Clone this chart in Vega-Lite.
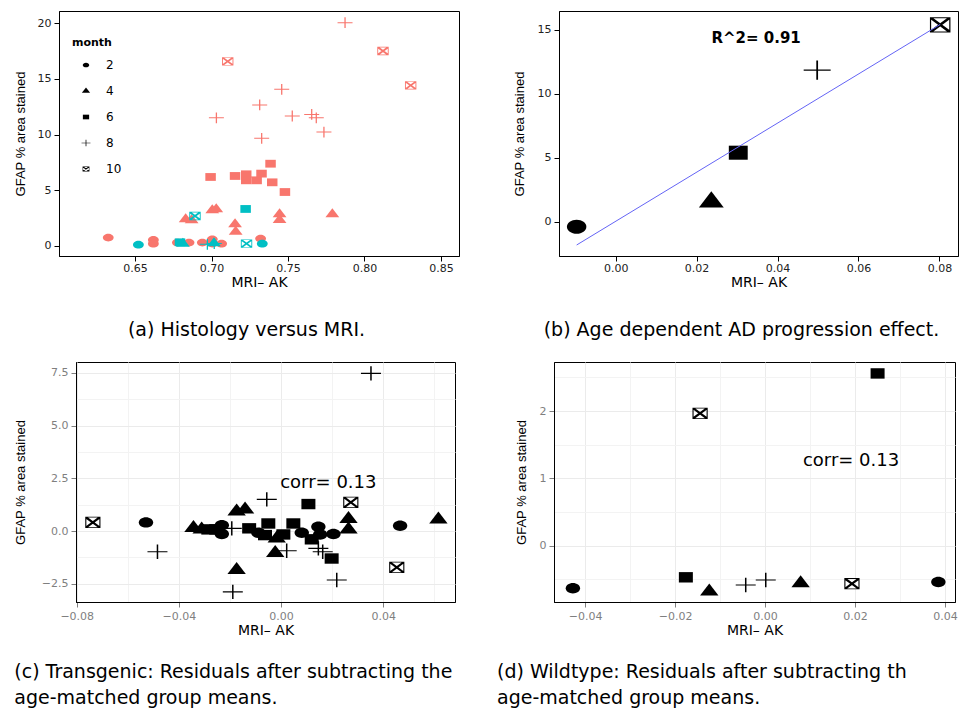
{
  "$schema": "https://vega.github.io/schema/vega-lite/v6.json",
  "background": "white",
  "padding": {"left": 12, "top": 10, "right": 0, "bottom": 0},
  "spacing": 20,
  "config": {
    "font": "DejaVu Sans",
    "view": {"stroke": "#000000", "strokeWidth": 1},
    "axis": {
      "labelFont": "DejaVu Sans", "labelFontSize": 11, "labelColor": "#222222",
      "labelPadding": 3, "labelFlush": false, "labelOverlap": false,
      "tickSize": 5, "tickColor": "#000000", "domainColor": "#000000", "domainWidth": 1,
      "grid": false, "titleColor": "#000000", "titleFontWeight": "normal"
    },
    "axisX": {"titleFont": "DejaVu Sans", "titleFontSize": 14, "titlePadding": 2, "labelPadding": 1},
    "axisY": {"titleFont": "Liberation Sans", "titleFontSize": 13},
    "title": {"font": "DejaVu Sans", "fontSize": 19, "fontWeight": "normal", "color": "#000000"},
    "text": {"font": "DejaVu Sans"}
  },
  "datasets": {
    "histology": [
      {"mri": 0.6325, "gfap": 0.75, "month": 2, "genotype": "TG"},
      {"mri": 0.662, "gfap": 0.54, "month": 2, "genotype": "TG"},
      {"mri": 0.662, "gfap": 0.21, "month": 2, "genotype": "TG"},
      {"mri": 0.6777, "gfap": 0.3, "month": 2, "genotype": "TG"},
      {"mri": 0.6853, "gfap": 0.3, "month": 2, "genotype": "TG"},
      {"mri": 0.694, "gfap": 0.3, "month": 2, "genotype": "TG"},
      {"mri": 0.7005, "gfap": 0.6, "month": 2, "genotype": "TG"},
      {"mri": 0.7005, "gfap": 0.22, "month": 2, "genotype": "TG"},
      {"mri": 0.7066, "gfap": 0.21, "month": 2, "genotype": "TG"},
      {"mri": 0.7321, "gfap": 0.66, "month": 2, "genotype": "TG"},
      {"mri": 0.6831, "gfap": 2.4, "month": 4, "genotype": "TG"},
      {"mri": 0.687, "gfap": 2.3, "month": 4, "genotype": "TG"},
      {"mri": 0.7005, "gfap": 3.2, "month": 4, "genotype": "TG"},
      {"mri": 0.7031, "gfap": 3.3, "month": 4, "genotype": "TG"},
      {"mri": 0.7154, "gfap": 1.95, "month": 4, "genotype": "TG"},
      {"mri": 0.7158, "gfap": 1.27, "month": 4, "genotype": "TG"},
      {"mri": 0.7445, "gfap": 2.84, "month": 4, "genotype": "TG"},
      {"mri": 0.7445, "gfap": 2.33, "month": 4, "genotype": "TG"},
      {"mri": 0.779, "gfap": 2.84, "month": 4, "genotype": "TG"},
      {"mri": 0.6994, "gfap": 6.19, "month": 6, "genotype": "TG"},
      {"mri": 0.7154, "gfap": 6.28, "month": 6, "genotype": "TG"},
      {"mri": 0.7227, "gfap": 6.43, "month": 6, "genotype": "TG"},
      {"mri": 0.7227, "gfap": 5.89, "month": 6, "genotype": "TG"},
      {"mri": 0.7295, "gfap": 5.89, "month": 6, "genotype": "TG"},
      {"mri": 0.7327, "gfap": 6.49, "month": 6, "genotype": "TG"},
      {"mri": 0.7386, "gfap": 7.38, "month": 6, "genotype": "TG"},
      {"mri": 0.7397, "gfap": 5.71, "month": 6, "genotype": "TG"},
      {"mri": 0.748, "gfap": 4.84, "month": 6, "genotype": "TG"},
      {"mri": 0.7873, "gfap": 20.03, "month": 8, "genotype": "TG"},
      {"mri": 0.7459, "gfap": 14.05, "month": 8, "genotype": "TG"},
      {"mri": 0.7315, "gfap": 12.65, "month": 8, "genotype": "TG"},
      {"mri": 0.7032, "gfap": 11.5, "month": 8, "genotype": "TG"},
      {"mri": 0.7528, "gfap": 11.66, "month": 8, "genotype": "TG"},
      {"mri": 0.7655, "gfap": 11.8, "month": 8, "genotype": "TG"},
      {"mri": 0.7685, "gfap": 11.5, "month": 8, "genotype": "TG"},
      {"mri": 0.7328, "gfap": 9.66, "month": 8, "genotype": "TG"},
      {"mri": 0.7735, "gfap": 10.22, "month": 8, "genotype": "TG"},
      {"mri": 0.7106, "gfap": 16.56, "month": 10, "genotype": "TG"},
      {"mri": 0.8121, "gfap": 17.49, "month": 10, "genotype": "TG"},
      {"mri": 0.8302, "gfap": 14.41, "month": 10, "genotype": "TG"},
      {"mri": 0.6522, "gfap": 0.12, "month": 2, "genotype": "WT"},
      {"mri": 0.7332, "gfap": 0.21, "month": 2, "genotype": "WT"},
      {"mri": 0.7016, "gfap": 0.25, "month": 4, "genotype": "WT"},
      {"mri": 0.6813, "gfap": 0.2, "month": 4, "genotype": "WT"},
      {"mri": 0.6794, "gfap": 0.33, "month": 6, "genotype": "WT"},
      {"mri": 0.7223, "gfap": 3.32, "month": 6, "genotype": "WT"},
      {"mri": 0.6973, "gfap": 0.15, "month": 8, "genotype": "WT"},
      {"mri": 0.7018, "gfap": 0.22, "month": 8, "genotype": "WT"},
      {"mri": 0.6892, "gfap": 2.69, "month": 10, "genotype": "WT"},
      {"mri": 0.7229, "gfap": 0.21, "month": 10, "genotype": "WT"}
    ],
    "ageMeans": [
      {"mri": -0.00964, "gfap": -0.37, "month": 2},
      {"mri": 0.02364, "gfap": 1.55, "month": 4},
      {"mri": 0.0303, "gfap": 5.41, "month": 6},
      {"mri": 0.0498, "gfap": 11.86, "month": 8},
      {"mri": 0.0802, "gfap": 15.4, "month": 10}
    ],
    "ageFit": [
      {"mri": -0.00964, "gfap": -1.8},
      {"mri": 0.0802, "gfap": 15.43}
    ],
    "ageNote": [{"mri": 0.0347, "gfap": 14.4, "label": "R^2= 0.91"}],
    "transgenic": [
      {"mri": -0.0737, "gfap": 0.41, "month": 10},
      {"mri": 0.0273, "gfap": 1.36, "month": 10},
      {"mri": 0.0453, "gfap": -1.72, "month": 10},
      {"mri": -0.0529, "gfap": 0.41, "month": 2},
      {"mri": -0.0232, "gfap": 0.28, "month": 2},
      {"mri": -0.0232, "gfap": -0.14, "month": 2},
      {"mri": -0.0089, "gfap": -0.08, "month": 2},
      {"mri": 0.0081, "gfap": -0.08, "month": 2},
      {"mri": 0.0146, "gfap": 0.21, "month": 2},
      {"mri": 0.0153, "gfap": -0.16, "month": 2},
      {"mri": 0.0205, "gfap": -0.14, "month": 2},
      {"mri": 0.0466, "gfap": 0.25, "month": 2},
      {"mri": -0.0343, "gfap": 0.14, "month": 4},
      {"mri": -0.0311, "gfap": 0.08, "month": 4},
      {"mri": -0.0174, "gfap": 0.93, "month": 4},
      {"mri": -0.0141, "gfap": 1.02, "month": 4},
      {"mri": -0.0174, "gfap": -1.84, "month": 4},
      {"mri": -0.0017, "gfap": -0.35, "month": 4},
      {"mri": -0.0023, "gfap": -1.04, "month": 4},
      {"mri": 0.0264, "gfap": 0.57, "month": 4},
      {"mri": 0.0264, "gfap": 0.08, "month": 4},
      {"mri": 0.0616, "gfap": 0.55, "month": 4},
      {"mri": -0.0285, "gfap": 0.08, "month": 6},
      {"mri": -0.0254, "gfap": 0.08, "month": 6},
      {"mri": -0.0125, "gfap": 0.13, "month": 6},
      {"mri": -0.005, "gfap": 0.36, "month": 6},
      {"mri": -0.0063, "gfap": -0.19, "month": 6},
      {"mri": 0.0009, "gfap": -0.16, "month": 6},
      {"mri": 0.0048, "gfap": 0.36, "month": 6},
      {"mri": 0.0107, "gfap": 1.28, "month": 6},
      {"mri": 0.012, "gfap": -0.39, "month": 6},
      {"mri": 0.0198, "gfap": -1.3, "month": 6},
      {"mri": -0.0484, "gfap": -0.98, "month": 8},
      {"mri": -0.0193, "gfap": 0.13, "month": 8},
      {"mri": -0.0189, "gfap": -2.88, "month": 8},
      {"mri": -0.0056, "gfap": 1.5, "month": 8},
      {"mri": 0.0022, "gfap": -0.93, "month": 8},
      {"mri": 0.0146, "gfap": -0.82, "month": 8},
      {"mri": 0.0163, "gfap": -0.98, "month": 8},
      {"mri": 0.0218, "gfap": -2.32, "month": 8},
      {"mri": 0.0352, "gfap": 7.47, "month": 8}
    ],
    "transgenicNote": [{"mri": 0.0185, "gfap": 2.26, "label": "corr= 0.13"}],
    "wildtype": [
      {"mri": -0.0427, "gfap": -0.633, "month": 2},
      {"mri": 0.0385, "gfap": -0.54, "month": 2},
      {"mri": -0.0124, "gfap": -0.68, "month": 4},
      {"mri": 0.0079, "gfap": -0.56, "month": 4},
      {"mri": -0.0176, "gfap": -0.47, "month": 6},
      {"mri": 0.025, "gfap": 2.56, "month": 6},
      {"mri": -0.0043, "gfap": -0.584, "month": 8},
      {"mri": 0.00015, "gfap": -0.51, "month": 8},
      {"mri": -0.01444, "gfap": 1.967, "month": 10},
      {"mri": 0.0193, "gfap": -0.565, "month": 10}
    ],
    "wildtypeNote": [{"mri": 0.0191, "gfap": 1.26, "label": "corr= 0.13"}]
  },
  "resolve": {"scale": {"shape": "independent", "color": "independent"}, "legend": {"shape": "independent", "color": "independent"}},
  "vconcat": [
    {
      "bounds": "full",
      "spacing": 52,
      "resolve": {"scale": {"shape": "independent", "color": "independent"}, "legend": {"shape": "independent", "color": "independent"}},
      "hconcat": [
        {
          "bounds": "full",
          "spacing": 0,
          "resolve": {"scale": {"shape": "independent", "color": "independent"}, "legend": {"shape": "independent", "color": "independent"}},
          "hconcat": [
            {"width": 1, "height": 245, "view": {"stroke": null}, "data": {"values": []}, "mark": "point"},
            {
              "width": 400,
              "height": 245,
              "title": {"text": "(a) Histology versus MRI.", "orient": "bottom", "anchor": "middle", "frame": "bounds", "offset": 32, "dx": 10},
              "data": {"name": "histology"},
              "mark": {"type": "point", "filled": true, "opacity": 1, "size": 225},
              "encoding": {
                "x": {"field": "mri", "type": "quantitative",
                      "scale": {"domain": [0.6003, 0.8618], "nice": false, "zero": false},
                      "axis": {"values": [0.65, 0.7, 0.75, 0.8, 0.85], "format": ".2f", "title": "MRI– AK"}},
                "y": {"field": "gfap", "type": "quantitative",
                      "scale": {"domain": [-0.9, 21.08], "nice": false, "zero": false},
                      "axis": {"values": [0, 5, 10, 15, 20], "format": "d", "title": "GFAP % area stained", "titlePadding": 10}},
                "shape": {"field": "month", "type": "ordinal",
                          "scale": {"domain": [2, 4, 6, 8, 10], "range": [
                            "M-0.72,0C-0.72,-0.2872,-0.3976,-0.52,0,-0.52C0.3976,-0.52,0.72,-0.2872,0.72,0C0.72,0.2872,0.3976,0.52,0,0.52C-0.3976,0.52,-0.72,0.2872,-0.72,0Z",
                            "M0,-0.8L0.92,0.4L-0.92,0.4Z",
                            "M-0.7,-0.52H0.7V0.52H-0.7Z",
                            "M-1,-0.065H1V0.065H-1ZM-0.085,-0.72H0.085V0.72H-0.085Z",
                            "M-0.76,-0.56H0.76V0.56H-0.76ZM-0.64,-0.47V0.47H0.64V-0.47ZM-0.56,-0.56L0.76,0.413L0.56,0.56L-0.76,-0.413ZM0.56,-0.56L0.76,-0.413L-0.56,0.56L-0.76,0.413Z"
                          ]},
                          "legend": {"orient": "none", "legendX": 13, "legendY": 26, "title": "month",
                                     "titleFont": "DejaVu Sans", "titleFontSize": 11, "titleFontWeight": "bold", "titleColor": "#000000",
                                     "titlePadding": 11, "labelFont": "DejaVu Sans", "labelFontSize": 12, "labelColor": "#000000",
                                     "symbolSize": 80, "symbolFillColor": "#000000", "symbolStrokeColor": "#000000", "symbolStrokeWidth": 0,
                                     "rowPadding": 14, "symbolOffset": 8, "labelOffset": 14, "padding": 0}},
                "color": {"field": "genotype", "type": "nominal",
                          "scale": {"domain": ["TG", "WT"], "range": ["#F8766D", "#00BFC4"]}, "legend": null}
              }
            }
          ]
        },
        {
          "width": 399,
          "height": 245,
          "title": {"text": "(b) Age dependent AD progression effect.", "orient": "bottom", "anchor": "middle", "frame": "bounds", "offset": 32, "dx": 6},
          "encoding": {
            "x": {"field": "mri", "type": "quantitative",
                  "scale": {"domain": [-0.014, 0.0846], "nice": false, "zero": false},
                  "axis": {"values": [0, 0.02, 0.04, 0.06, 0.08], "format": ".2f", "title": "MRI– AK"}},
            "y": {"field": "gfap", "type": "quantitative",
                  "scale": {"domain": [-2.66, 16.48], "nice": false, "zero": false},
                  "axis": {"values": [0, 5, 10, 15], "format": "d", "title": "GFAP % area stained", "titlePadding": 11}}
          },
          "layer": [
            {
              "data": {"name": "ageMeans"},
              "mark": {"type": "point", "filled": true, "opacity": 1, "size": 729, "color": "#000000"},
              "encoding": {
                "shape": {"field": "month", "type": "ordinal", "legend": null,
                          "scale": {"domain": [2, 4, 6, 8, 10], "range": [
                            "M-0.72,0C-0.72,-0.2872,-0.3976,-0.52,0,-0.52C0.3976,-0.52,0.72,-0.2872,0.72,0C0.72,0.2872,0.3976,0.52,0,0.52C-0.3976,0.52,-0.72,0.2872,-0.72,0Z",
                            "M0,-0.8L0.92,0.4L-0.92,0.4Z",
                            "M-0.7,-0.52H0.7V0.52H-0.7Z",
                            "M-1,-0.05H1V0.05H-1ZM-0.065,-0.72H0.065V0.72H-0.065Z",
                            "M-0.76,-0.56H0.76V0.56H-0.76ZM-0.67,-0.495V0.495H0.67V-0.495ZM-0.6,-0.56L0.76,0.443L0.6,0.56L-0.76,-0.443ZM0.6,-0.56L0.76,-0.443L-0.6,0.56L-0.76,0.443Z"
                          ]}}
              }
            },
            {
              "data": {"name": "ageFit"},
              "mark": {"type": "line", "color": "#6464F5", "strokeWidth": 1},
              "encoding": {}
            },
            {
              "data": {"name": "ageNote"},
              "mark": {"type": "text", "font": "DejaVu Sans", "fontSize": 15, "fontWeight": "bold", "color": "#000000", "align": "center", "baseline": "middle"},
              "encoding": {"text": {"field": "label"}}
            }
          ]
        }
      ]
    },
    {
      "bounds": "full",
      "spacing": 40,
      "resolve": {"scale": {"shape": "independent", "color": "independent"}, "legend": {"shape": "independent", "color": "independent"}},
      "hconcat": [
        {
          "bounds": "full",
          "spacing": 0,
          "resolve": {"scale": {"shape": "independent", "color": "independent"}, "legend": {"shape": "independent", "color": "independent"}},
          "hconcat": [
            {"width": 1, "height": 240, "view": {"stroke": null}, "data": {"values": []}, "mark": "point"},
            {
              "width": 379,
              "height": 240,
              "title": {"text": ["(c) Transgenic: Residuals after subtracting the", "age-matched group means."], "orient": "bottom", "anchor": "start", "frame": "bounds", "offset": 26, "lineHeight": 26},
              "resolve": {"axis": {"x": "independent", "y": "independent"}},
              "layer": [
                {
                  "data": {"name": "transgenic"},
                  "mark": {"type": "point", "filled": true, "opacity": 1, "size": 400, "color": "#000000"},
                  "encoding": {
                    "x": {"field": "mri", "type": "quantitative",
                          "scale": {"domain": [-0.0803, 0.0681], "nice": false, "zero": false},
                          "axis": {"values": [-0.08, -0.04, 0, 0.04], "format": ".2f", "title": "MRI– AK",
                                   "grid": true, "gridColor": "#ebebeb", "labelColor": "#7f7f7f", "tickColor": "#7f7f7f",
                                   "labelPadding": 3, "titlePadding": 2}},
                    "y": {"field": "gfap", "type": "quantitative",
                          "scale": {"domain": [-3.36, 8.01], "nice": false, "zero": false},
                          "axis": {"values": [-2.5, 0, 2.5, 5, 7.5], "format": ".1f", "title": "GFAP % area stained",
                                   "grid": true, "gridColor": "#ebebeb", "labelColor": "#7f7f7f", "tickColor": "#7f7f7f",
                                   "titlePadding": 14}},
                    "shape": {"field": "month", "type": "ordinal", "legend": null,
                              "scale": {"domain": [2, 4, 6, 8, 10], "range": [
                                "M-0.72,0C-0.72,-0.2872,-0.3976,-0.52,0,-0.52C0.3976,-0.52,0.72,-0.2872,0.72,0C0.72,0.2872,0.3976,0.52,0,0.52C-0.3976,0.52,-0.72,0.2872,-0.72,0Z",
                                "M0,-0.8L0.92,0.4L-0.92,0.4Z",
                                "M-0.7,-0.52H0.7V0.52H-0.7Z",
                                "M-1,-0.055H1V0.055H-1ZM-0.075,-0.72H0.075V0.72H-0.075Z",
                                "M-0.76,-0.56H0.76V0.56H-0.76ZM-0.65,-0.48V0.48H0.65V-0.48ZM-0.58,-0.56L0.76,0.427L0.58,0.56L-0.76,-0.427ZM0.58,-0.56L0.76,-0.427L-0.58,0.56L-0.76,0.427Z"
                              ]}}
                  }
                },
                {
                  "data": {"name": "transgenicNote"},
                  "mark": {"type": "text", "font": "DejaVu Sans", "fontSize": 18, "color": "#000000", "align": "center", "baseline": "middle"},
                  "encoding": {
                    "x": {"field": "mri", "type": "quantitative",
                          "scale": {"domain": [-0.0803, 0.0681], "nice": false, "zero": false},
                          "axis": {"values": [-0.06, -0.02, 0.02, 0.06], "grid": true, "gridColor": "#f3f3f3",
                                   "labels": false, "ticks": false, "domain": false, "title": null}},
                    "y": {"field": "gfap", "type": "quantitative",
                          "scale": {"domain": [-3.36, 8.01], "nice": false, "zero": false},
                          "axis": {"values": [-1.25, 1.25, 3.75, 6.25], "grid": true, "gridColor": "#f3f3f3",
                                   "labels": false, "ticks": false, "domain": false, "title": null}},
                    "text": {"field": "label"}
                  }
                }
              ]
            }
          ]
        },
        {
          "width": 401,
          "height": 240,
          "title": {"text": ["(d) Wildtype:  Residuals after subtracting th", "age-matched group means."], "orient": "bottom", "anchor": "start", "frame": "bounds", "offset": 26, "lineHeight": 26, "dx": -18},
          "resolve": {"axis": {"x": "independent", "y": "independent"}},
          "layer": [
            {
              "data": {"name": "wildtype"},
              "mark": {"type": "point", "filled": true, "opacity": 1, "size": 400, "color": "#000000"},
              "encoding": {
                "x": {"field": "mri", "type": "quantitative",
                      "scale": {"domain": [-0.0469, 0.0422], "nice": false, "zero": false},
                      "axis": {"values": [-0.04, -0.02, 0, 0.02, 0.04], "format": ".2f", "title": "MRI– AK",
                               "grid": true, "gridColor": "#ebebeb", "labelColor": "#7f7f7f", "tickColor": "#7f7f7f",
                               "labelPadding": 3, "titlePadding": 2}},
                "y": {"field": "gfap", "type": "quantitative",
                      "scale": {"domain": [-0.837, 2.73], "nice": false, "zero": false},
                      "axis": {"values": [0, 1, 2], "format": "d", "title": "GFAP % area stained",
                               "grid": true, "gridColor": "#ebebeb", "labelColor": "#7f7f7f", "tickColor": "#7f7f7f",
                               "titlePadding": 11}},
                "shape": {"field": "month", "type": "ordinal", "legend": null,
                          "scale": {"domain": [2, 4, 6, 8, 10], "range": [
                            "M-0.72,0C-0.72,-0.2872,-0.3976,-0.52,0,-0.52C0.3976,-0.52,0.72,-0.2872,0.72,0C0.72,0.2872,0.3976,0.52,0,0.52C-0.3976,0.52,-0.72,0.2872,-0.72,0Z",
                            "M0,-0.8L0.92,0.4L-0.92,0.4Z",
                            "M-0.7,-0.52H0.7V0.52H-0.7Z",
                            "M-1,-0.055H1V0.055H-1ZM-0.075,-0.72H0.075V0.72H-0.075Z",
                            "M-0.76,-0.56H0.76V0.56H-0.76ZM-0.65,-0.48V0.48H0.65V-0.48ZM-0.58,-0.56L0.76,0.427L0.58,0.56L-0.76,-0.427ZM0.58,-0.56L0.76,-0.427L-0.58,0.56L-0.76,0.427Z"
                          ]}}
              }
            },
            {
              "data": {"name": "wildtypeNote"},
              "mark": {"type": "text", "font": "DejaVu Sans", "fontSize": 18, "color": "#000000", "align": "center", "baseline": "middle"},
              "encoding": {
                "x": {"field": "mri", "type": "quantitative",
                      "scale": {"domain": [-0.0469, 0.0422], "nice": false, "zero": false},
                      "axis": {"values": [-0.03, -0.01, 0.01, 0.03], "grid": true, "gridColor": "#f3f3f3",
                               "labels": false, "ticks": false, "domain": false, "title": null}},
                "y": {"field": "gfap", "type": "quantitative",
                      "scale": {"domain": [-0.837, 2.73], "nice": false, "zero": false},
                      "axis": {"values": [-0.5, 0.5, 1.5, 2.5], "grid": true, "gridColor": "#f3f3f3",
                               "labels": false, "ticks": false, "domain": false, "title": null}},
                "text": {"field": "label"}
              }
            }
          ]
        }
      ]
    }
  ]
}
